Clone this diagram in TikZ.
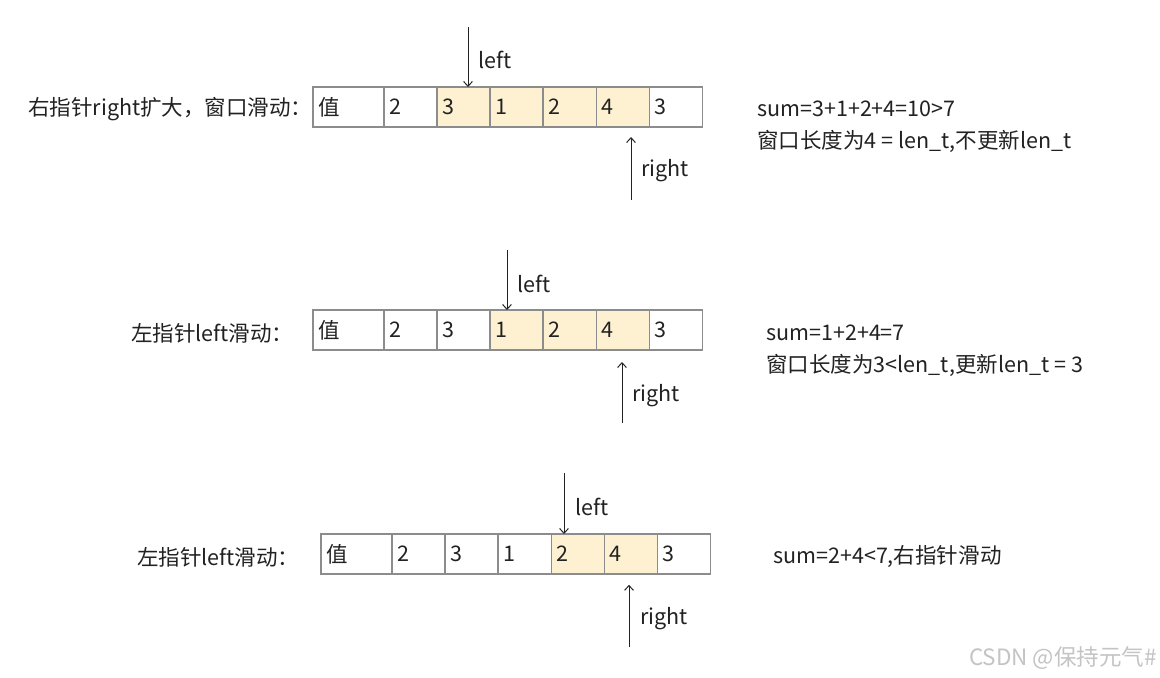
\documentclass[tikz,border=0pt]{standalone}
\usepackage{fontspec}
\setmainfont{Noto Sans CJK SC}
\usetikzlibrary{arrows.meta,positioning}
\definecolor{cellline}{RGB}{140,140,140}
\definecolor{winfill}{RGB}{253,241,210}
\definecolor{inktext}{RGB}{34,34,34}
\definecolor{markgray}{RGB}{196,196,196}
\newcommand{\cellv}[1]{\raisebox{-1.5pt}{#1}}
\tikzset{
  cell/.style={draw=cellline, line width=0.8pt, minimum height=1cm,
               text width=1.075cm, inner xsep=0.125cm, inner ysep=0pt,
               outer sep=0pt, align=left, anchor=west, text=inktext},
  headcell/.style={cell, text width=1.525cm},
  wincell/.style={cell, fill=winfill},
  ptr/.style={-{Straight Barb[length=1.2mm,width=2.2mm]}, line width=0.7pt, draw=inktext},
  ptrlab/.style={anchor=west, inner sep=0pt, text=inktext},
  rowlab/.style={anchor=west, inner sep=0pt, text=inktext},
  note/.style={anchor=west, inner sep=0pt, align=left, text=inktext},
}

\begin{document}
\begin{tikzpicture}[x=0.025cm,y=-0.025cm, font=\fontsize{15.3}{22.7}\selectfont]
  \path[use as bounding box, fill=white] (0,0) rectangle (1160,678);

  % row 1: right pointer grows the window
  \node[rowlab] (lab1) at (28,109) {右指针right扩大，窗口滑动：};
  \node[headcell] (r1c1) at (313,107) {\cellv{值}};
  \foreach \v/\s [count=\i from 2] in {2/cell,3/wincell,1/wincell,2/wincell,4/wincell,3/cell} {
    \pgfmathtruncatemacro\p{\i-1}
    \node[\s, right=0pt of r1c\p] (r1c\i) {\cellv{\v}};
  }
  \coordinate (left1) at (468,27);
  \draw[ptr] (left1) -- (left1 |- r1c3.north);
  \node[ptrlab] (leftlab1) at (478,60) {left};
  \coordinate (right1) at (631,200);
  \draw[ptr, shorten >=0.25cm] (right1) -- (right1 |- r1c6.south);
  \node[ptrlab] (rightlab1) at (641,171) {right};
  \node[note] (note1) at (757,127)
    {sum=3+1+2+4=10>7\\窗口长度为4 = len\_t,不更新len\_t};

  % row 2: left pointer slides
  \node[rowlab] (lab2) at (131,333) {左指针left滑动：};
  \node[headcell] (r2c1) at (313,330) {\cellv{值}};
  \foreach \v/\s [count=\i from 2] in {2/cell,3/cell,1/wincell,2/wincell,4/wincell,3/cell} {
    \pgfmathtruncatemacro\p{\i-1}
    \node[\s, right=0pt of r2c\p] (r2c\i) {\cellv{\v}};
  }
  \coordinate (left2) at (507,250);
  \draw[ptr] (left2) -- (left2 |- r2c4.north);
  \node[ptrlab] (leftlab2) at (517,284) {left};
  \coordinate (right2) at (622,423);
  \draw[ptr, shorten >=0.3cm] (right2) -- (right2 |- r2c6.south);
  \node[ptrlab] (rightlab2) at (632,396) {right};
  \node[note] (note2) at (766,351)
    {sum=1+2+4=7\\窗口长度为3<len\_t,更新len\_t = 3};

  % row 3: left pointer slides again
  \node[rowlab] (lab3) at (137,557) {左指针left滑动：};
  \node[headcell] (r3c1) at (321,554) {\cellv{值}};
  \foreach \v/\s [count=\i from 2] in {2/cell,3/cell,1/cell,2/wincell,4/wincell,3/cell} {
    \pgfmathtruncatemacro\p{\i-1}
    \node[\s, right=0pt of r3c\p] (r3c\i) {\cellv{\v}};
  }
  \coordinate (left3) at (564,473);
  \draw[ptr] (left3) -- (left3 |- r3c5.north);
  \node[ptrlab] (leftlab3) at (575,507) {left};
  \coordinate (right3) at (629,647);
  \draw[ptr, shorten >=0.27cm] (right3) -- (right3 |- r3c6.south);
  \node[ptrlab] (rightlab3) at (640,619) {right};
  \node[note] (note3) at (773,557) {sum=2+4<7,右指针滑动};

  \node[anchor=east, inner sep=0pt, text=markgray, font=\fontsize{16}{18}\selectfont]
    (mark) at (1157,658) {CSDN @保持元气\#};
\end{tikzpicture}
\end{document}
